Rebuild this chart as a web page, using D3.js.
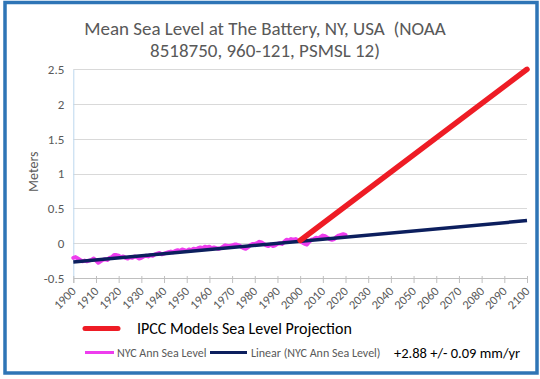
<!DOCTYPE html>
<html>
<head>
<meta charset="utf-8">
<script src="https://cdn.jsdelivr.net/npm/d3@7"></script>
<style>
  html, body { margin: 0; padding: 0; background: #fff; }
  svg { display: block; font-family: Carlito, Calibri, "Liberation Sans", Arial, sans-serif; }
  text { white-space: pre; }
</style>
</head>
<body>
<svg id="chart" width="540" height="379"></svg>
<script>
// ---- Data ----
const years = d3.range(1900, 2021);
const seaLevel = [
  -0.21, -0.20, -0.22, -0.24, -0.26, -0.25, -0.26, -0.25, -0.24, -0.22,
  -0.25, -0.28, -0.26, -0.24, -0.23, -0.24, -0.21, -0.20, -0.17, -0.17,
  -0.18, -0.20, -0.19, -0.21, -0.22, -0.20, -0.21, -0.19, -0.20, -0.22,
  -0.21, -0.19, -0.18, -0.19, -0.17, -0.18, -0.16, -0.15, -0.14, -0.16,
  -0.15, -0.14, -0.13, -0.12, -0.13, -0.11, -0.10, -0.11, -0.09, -0.10,
  -0.11, -0.09, -0.10, -0.08, -0.09, -0.07, -0.06, -0.07, -0.05, -0.06,
  -0.05, -0.07, -0.06, -0.07, -0.08, -0.07, -0.05, -0.03, -0.04, -0.04,
  -0.03, -0.02, -0.02, -0.03, -0.05, -0.07, -0.08, -0.06, -0.03, -0.01,
  -0.01, 0.00, 0.02, 0.01, -0.01, -0.03, -0.04, -0.02, -0.04, -0.03,
  -0.01, 0.00, -0.01, 0.02, 0.05, 0.04, 0.06, 0.05, 0.06, 0.04,
  0.03, 0.01, -0.01, -0.02, 0.02, 0.05, 0.06, 0.08, 0.07, 0.09,
  0.11, 0.10, 0.08, 0.06, 0.05, 0.06, 0.09, 0.11, 0.12, 0.13,
  0.12
];
const trendYears = [1900, 2100];
const trendValues = [-0.27, 0.325];
const ipccYears = [2000, 2100];
const ipccValues = [0.04, 2.5];
const xTicks = d3.range(1900, 2101, 10);
const yTicks = [-0.5, 0, 0.5, 1, 1.5, 2, 2.5];
const titleLines = ["Mean Sea Level at The Battery, NY, USA  (NOAA", "8518750, 960-121, PSMSL 12)"];
const yLabel = "Meters";
const legendIPCC = "IPCC Models Sea Level Projection";
const legendNYC = "NYC Ann Sea Level";
const legendLinear = "Linear (NYC Ann Sea Level)";
const rateText = "+2.88 +/- 0.09 mm/yr";

// ---- Layout ----
const svg = d3.select("#chart");
const plot = { left: 73.3, right: 527, top: 69.3, bottom: 278 };
const grey = "#595959";
const FONT = "Carlito, Calibri, 'Liberation Sans', Arial, sans-serif";

const x = d3.scaleLinear().domain([1900, 2100]).range([plot.left, plot.right]);
const y = d3.scaleLinear().domain([-0.5, 2.5]).range([plot.bottom, plot.top]);

// border
svg.append("rect")
  .attr("x", 5).attr("y", 2.5).attr("width", 532).attr("height", 370.5)
  .attr("fill", "#fff").attr("stroke", "#2E75B6").attr("stroke-width", 3.5);

// title
svg.append("g").selectAll("text").data(titleLines).join("text")
  .attr("x", 265).attr("y", (d, i) => 34.5 + i * 22.5)
  .attr("text-anchor", "middle").attr("fill", grey)
  .attr("font-size", 19).text(d => d);

// gridlines
svg.append("g").selectAll("line").data(yTicks.filter(t => t !== -0.5)).join("line")
  .attr("x1", plot.left).attr("x2", plot.right)
  .attr("y1", d => Math.round(y(d)) + 0.5).attr("y2", d => Math.round(y(d)) + 0.5)
  .attr("stroke", "#D9D9D9").attr("stroke-width", 1);

// y axis
const yAxis = d3.axisLeft(y).tickValues(yTicks).tickSize(0).tickPadding(9)
  .tickFormat(d => String(d));
const gy = svg.append("g").attr("transform", `translate(${plot.left},0)`).call(yAxis);
gy.select(".domain").attr("stroke", "#BDD7EE").attr("stroke-width", 1);
gy.selectAll("text").attr("fill", grey).attr("font-size", 13).attr("font-family", FONT);

// x axis
const xAxis = d3.axisBottom(x).tickValues(xTicks).tickSize(5).tickFormat(d => String(d));
const gx = svg.append("g").attr("transform", `translate(0,${plot.bottom})`).call(xAxis);
gx.select(".domain").attr("stroke", "#BFBFBF").attr("stroke-width", 1);
gx.selectAll(".tick line").attr("stroke", "#BFBFBF").attr("y1", -2);
gx.selectAll("text")
  .attr("fill", grey).attr("font-size", 12.5).attr("font-family", FONT)
  .attr("text-anchor", "end").attr("dy", null).attr("y", 0)
  .attr("transform", "translate(3,14) rotate(-45)");

// y label
svg.append("text")
  .attr("transform", `translate(38,${(plot.top + plot.bottom) / 2 - 2}) rotate(-90)`)
  .attr("text-anchor", "middle").attr("fill", grey).attr("font-size", 14)
  .text(yLabel);

// lines
const line = d3.line().x(d => x(d[0])).y(d => y(d[1]));
svg.append("path").datum(years.map((yr, i) => [yr, seaLevel[i]]))
  .attr("d", line).attr("fill", "none").attr("stroke", "#EE3DEE")
  .attr("stroke-width", 4).attr("stroke-linejoin", "round").attr("stroke-linecap", "round");
svg.append("path").datum(trendYears.map((yr, i) => [yr, trendValues[i]]))
  .attr("d", line).attr("fill", "none").attr("stroke", "#0C1F5E")
  .attr("stroke-width", 3.5);
svg.append("path").datum(ipccYears.map((yr, i) => [yr, ipccValues[i]]))
  .attr("d", line).attr("fill", "none").attr("stroke", "#EE1C25")
  .attr("stroke-width", 5.5).attr("stroke-linecap", "round");

// legend
const lg = svg.append("g");
lg.append("line").attr("x1", 85).attr("x2", 118).attr("y1", 328.5).attr("y2", 328.5)
  .attr("stroke", "#EE1C25").attr("stroke-width", 5).attr("stroke-linecap", "round");
lg.append("text").attr("x", 137).attr("y", 333.5).attr("fill", "#000")
  .attr("font-size", 16).text(legendIPCC);

lg.append("line").attr("x1", 85).attr("x2", 114).attr("y1", 352.5).attr("y2", 352.5)
  .attr("stroke", "#EE3DEE").attr("stroke-width", 3);
lg.append("text").attr("x", 117).attr("y", 357).attr("fill", grey)
  .attr("font-size", 12).text(legendNYC);
lg.append("line").attr("x1", 210).attr("x2", 247).attr("y1", 352.5).attr("y2", 352.5)
  .attr("stroke", "#0C1F5E").attr("stroke-width", 3);
lg.append("text").attr("x", 251).attr("y", 357).attr("fill", grey)
  .attr("font-size", 12).text(legendLinear);
lg.append("text").attr("x", 394).attr("y", 358).attr("fill", "#000")
  .attr("font-size", 14.5).text(rateText);
</script>
</body>
</html>
